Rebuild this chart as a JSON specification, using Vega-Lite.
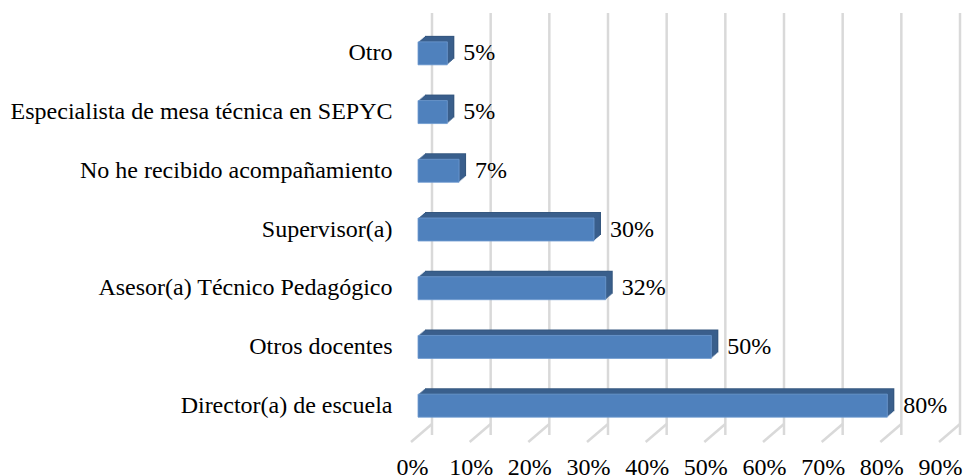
{
  "$schema": "https://vega.github.io/schema/vega-lite/v6.json",
  "autosize": "none",
  "width": 528,
  "height": 411,
  "padding": {"left": 418, "top": 24, "right": 18, "bottom": 41},
  "background": "white",
  "config": {"view": {"stroke": null}, "font": "Liberation Serif", "text": {"font": "Liberation Serif"}},
  "datasets": {
    "bars": [
      {"cat": "Otro", "v": 0.05},
      {"cat": "Especialista de mesa técnica en SEPYC", "v": 0.05},
      {"cat": "No he recibido acompañamiento", "v": 0.07},
      {"cat": "Supervisor(a)", "v": 0.30},
      {"cat": "Asesor(a) Técnico Pedagógico", "v": 0.32},
      {"cat": "Otros docentes", "v": 0.50},
      {"cat": "Director(a) de escuela", "v": 0.80}
    ],
    "ticks": [
      {"t": 0}, {"t": 0.1}, {"t": 0.2}, {"t": 0.3}, {"t": 0.4},
      {"t": 0.5}, {"t": 0.6}, {"t": 0.7}, {"t": 0.8}, {"t": 0.9}
    ]
  },
  "layer": [
    {
      "data": {"name": "ticks"},
      "mark": {"type": "rule", "color": "#d9d9d9", "strokeWidth": 2.5, "xOffset": 14, "x2Offset": 14, "yOffset": -11, "y2Offset": -11},
      "encoding": {
        "x": {"field": "t", "type": "quantitative", "scale": {"domain": [0, 0.9]},
          "axis": {"format": "%", "values": [0,0.1,0.2,0.3,0.4,0.5,0.6,0.7,0.8,0.9], "domain": false, "ticks": false, "grid": false, "labelFontSize": 24, "labelColor": "#000000", "labelPadding": 39.5, "labelBaseline": "alphabetic", "labelFlush": false, "labelOffset": -6, "title": null, "labelFont": "Liberation Serif", "labelOverlap": false}}
      }
    },
    {
      "data": {"name": "ticks"},
      "mark": {"type": "rule", "color": "#d9d9d9", "strokeWidth": 2.5, "xOffset": -7, "x2Offset": 14, "yOffset": 7, "y2Offset": -11},
      "encoding": {
        "x": {"field": "t", "type": "quantitative"},
        "x2": {"field": "t"},
        "y": {"value": "height"},
        "y2": {"value": "height"}
      }
    },
    {
      "data": {"name": "bars"},
      "layer": [
        {"mark": {"type": "bar", "size": 23, "color": "#35577f", "xOffset": 7, "x2Offset": 7, "yOffset": -6, "y2Offset": -6}},
        {"mark": {"type": "bar", "size": 23, "color": "#3a5f8c", "xOffset": 5.8, "x2Offset": 5.8, "yOffset": -5, "y2Offset": -5}},
        {"mark": {"type": "bar", "size": 23, "color": "#3a5f8c", "xOffset": 4.7, "x2Offset": 4.7, "yOffset": -4, "y2Offset": -4}},
        {"mark": {"type": "bar", "size": 23, "color": "#3a5f8c", "xOffset": 3.5, "x2Offset": 3.5, "yOffset": -3, "y2Offset": -3}},
        {"mark": {"type": "bar", "size": 23, "color": "#3a5f8c", "xOffset": 2.3, "x2Offset": 2.3, "yOffset": -2, "y2Offset": -2}},
        {"mark": {"type": "bar", "size": 23, "color": "#3a5f8c", "xOffset": 1.2, "x2Offset": 1.2, "yOffset": -1, "y2Offset": -1}},
        {"mark": {"type": "bar", "size": 23, "color": "#4f81bd", "stroke": "#6f9ad0", "strokeWidth": 0.8}},
        {"mark": {"type": "text", "align": "left", "baseline": "middle", "dx": 16, "fontSize": 24, "font": "Liberation Serif", "color": "#000000"},
          "encoding": {"text": {"field": "v", "type": "quantitative", "format": ".0%"}}}
      ],
      "encoding": {
        "y": {"field": "cat", "type": "nominal", "sort": null,
          "scale": {"paddingInner": 0, "paddingOuter": 0},
          "axis": {"domain": false, "ticks": false, "grid": false, "title": null, "labelFontSize": 24, "labelColor": "#000000", "labelPadding": 26, "labelFont": "Liberation Serif", "labelLimit": 0}},
        "x": {"field": "v", "type": "quantitative"}
      }
    }
  ]
}
